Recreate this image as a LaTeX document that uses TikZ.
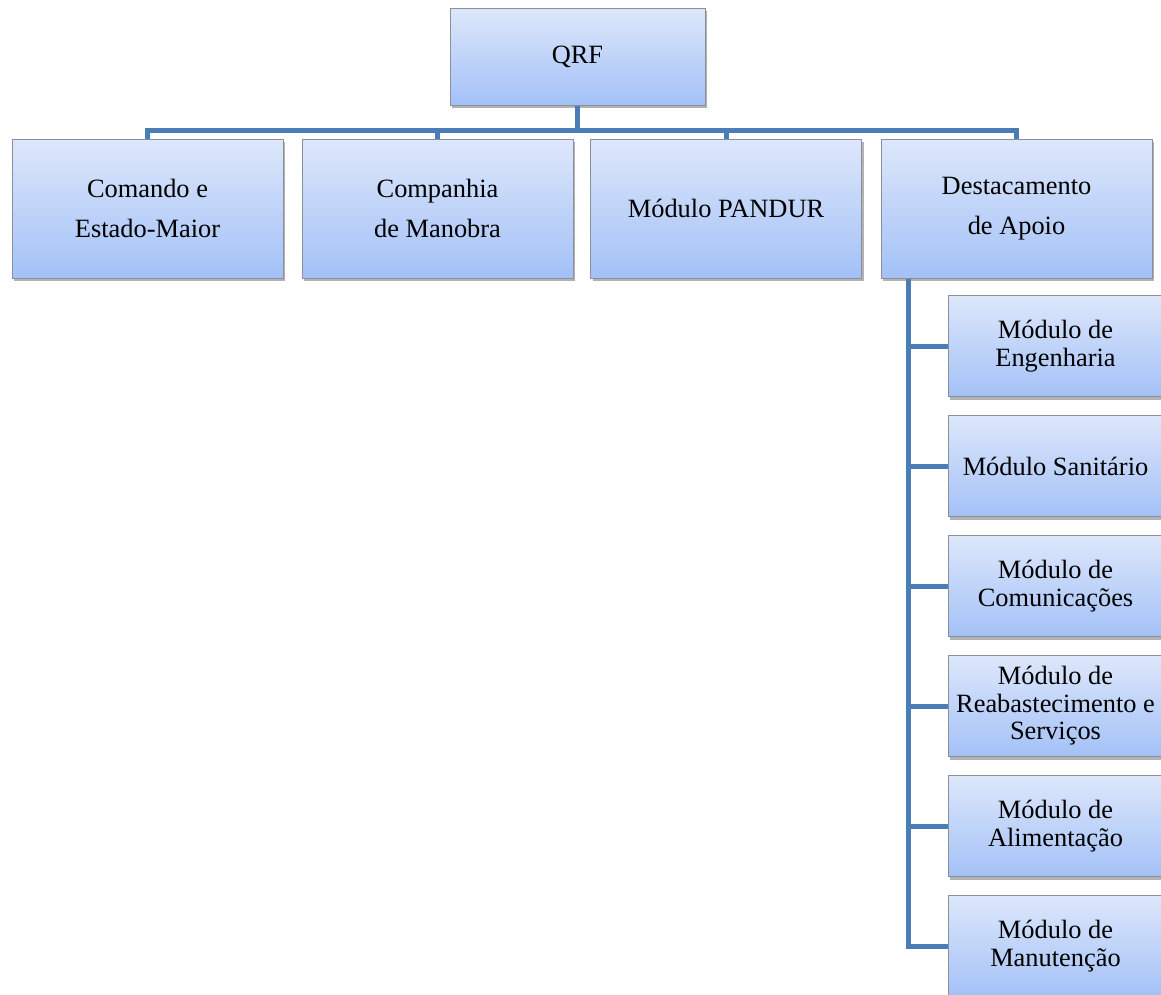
\documentclass[tikz,border=0pt]{standalone}
\usepackage{fontspec}
\setmainfont{Liberation Serif}
\usetikzlibrary{shadows}
\definecolor{boxtop}{HTML}{DDE7FB}
\definecolor{boxbot}{HTML}{A3C1F7}
\definecolor{boxline}{HTML}{8A8F99}
\definecolor{conncol}{HTML}{4A7CB6}
\tikzset{
  orgbox/.style={rectangle, draw=boxline, line width=1pt, top color=boxtop, bottom color=boxbot,
    drop shadow={shadow xshift=2pt, shadow yshift=-3pt, fill=black, opacity=0.3},
    inner sep=0pt, align=center, text=black},
  topbox/.style={orgbox, minimum width=255pt, minimum height=97pt, font=\fontsize{26.4}{40}\selectfont},
  rowbox/.style={orgbox, minimum width=271pt, minimum height=139pt, font=\fontsize{26.4}{40}\selectfont},
  subbox/.style={orgbox, minimum width=215pt, minimum height=101pt, font=\fontsize{26.4}{27.5}\selectfont},
  conn/.style={draw=conncol, line width=5pt}
}
\begin{document}
\begin{tikzpicture}[x=1pt,y=-1pt]
\useasboundingbox (0,0) rectangle (1161,994);
\node[topbox] (qrf) at (577.5,56.5) {QRF};
\node[rowbox] (c1) at (147.5,208.5) {Comando e\\Estado-Maior};
\node[rowbox] (c2) at (437.5,208.5) {Companhia\\de Manobra};
\node[rowbox] (c3) at (726,208.5) {Módulo PANDUR};
\node[rowbox] (c4) at (1016.5,208.5) {Destacamento\\de Apoio};
\node[subbox] (s1) at (1055.5,346) {Módulo de\\Engenharia};
\node[subbox] (s2) at (1055.5,466) {Módulo Sanitário};
\node[subbox] (s3) at (1055.5,586) {Módulo de\\Comunicações};
\node[subbox] (s4) at (1055.5,706) {Módulo de\\Reabastecimento e\\Serviços};
\node[subbox] (s5) at (1055.5,826) {Módulo de\\Alimentação};
\node[subbox] (s6) at (1055.5,946) {Módulo de\\Manutenção};
\foreach \c in {c1,c2,c3,c4}{
  \draw[conn] (qrf.south) -- ++(0,25) -| (\c.north);
}
\coordinate (sp) at ([xshift=28pt]c4.south west);
\foreach \s in {s1,s2,s3,s4,s5,s6}{
  \draw[conn] (sp) |- (\s.west);
}
\end{tikzpicture}
\end{document}
